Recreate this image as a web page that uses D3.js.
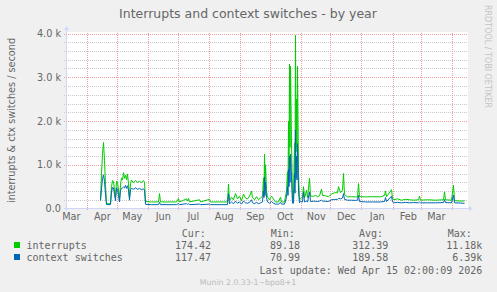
<!DOCTYPE html>
<html>
<head>
<meta charset="utf-8">
<script src="https://cdn.jsdelivr.net/npm/d3@7"></script>
<style>
  html, body { margin: 0; padding: 0; background: #f0f0f0; }
  svg { display: block; }
  text { font-family: "DejaVu Sans", sans-serif; fill: #666; }
  .mono { font-family: "DejaVu Sans Mono", monospace; }
</style>
</head>
<body>
<svg id="chart" width="497" height="292"></svg>
<script>
// samples
const dates = [
  "2025-04-15","2025-04-16","2025-04-17","2025-04-18","2025-04-19","2025-04-20","2025-04-21","2025-04-25",
  "2025-04-26","2025-04-27","2025-04-28","2025-04-29","2025-04-30","2025-05-01","2025-05-02","2025-05-03",
  "2025-05-04","2025-05-05","2025-05-06","2025-05-07","2025-05-08","2025-05-09","2025-05-10","2025-05-11",
  "2025-05-12","2025-05-13","2025-05-14","2025-05-15","2025-05-16","2025-05-18","2025-05-20","2025-05-22",
  "2025-05-24","2025-05-26","2025-05-28","2025-05-29","2025-05-30","2025-06-05","2025-06-12","2025-06-13",
  "2025-06-14","2025-06-30","2025-07-02","2025-07-03","2025-07-10","2025-07-11","2025-07-12","2025-07-13",
  "2025-07-23","2025-07-24","2025-08-02","2025-08-03","2025-08-20","2025-08-21","2025-08-22","2025-08-24",
  "2025-08-26","2025-08-28","2025-08-30","2025-09-01","2025-09-03","2025-09-05","2025-09-07","2025-09-09",
  "2025-09-11","2025-09-13","2025-09-14","2025-09-16","2025-09-18","2025-09-20","2025-09-22","2025-09-24",
  "2025-09-25","2025-09-25T12:00Z","2025-09-26","2025-09-26T12:00Z","2025-09-27","2025-09-28","2025-09-29","2025-10-01",
  "2025-10-03","2025-10-05","2025-10-07","2025-10-10","2025-10-12","2025-10-13","2025-10-16","2025-10-18",
  "2025-10-19","2025-10-19T12:00Z","2025-10-20","2025-10-20T12:00Z","2025-10-21","2025-10-21T12:00Z","2025-10-22","2025-10-23",
  "2025-10-24","2025-10-25","2025-10-26","2025-10-26T12:00Z","2025-10-27","2025-10-27T12:00Z","2025-10-28","2025-10-28T12:00Z",
  "2025-10-29","2025-10-30","2025-10-31","2025-11-01","2025-11-03","2025-11-04","2025-11-05","2025-11-07",
  "2025-11-08","2025-11-10","2025-11-11","2025-11-14","2025-11-16","2025-11-18","2025-11-20","2025-11-22",
  "2025-11-23","2025-11-26","2025-11-29","2025-12-02","2025-12-05","2025-12-08","2025-12-09","2025-12-11",
  "2025-12-13","2025-12-14","2025-12-15","2025-12-18","2025-12-22","2025-12-26","2025-12-28","2025-12-29",
  "2025-12-30","2026-01-05","2026-01-12","2026-01-20","2026-01-24","2026-01-25","2026-01-26","2026-01-31",
  "2026-02-01","2026-02-02","2026-02-06","2026-02-10","2026-02-14","2026-02-18","2026-02-22","2026-02-27",
  "2026-02-28","2026-03-01","2026-03-08","2026-03-16","2026-03-24","2026-03-25","2026-03-26","2026-04-01",
  "2026-04-03","2026-04-04","2026-04-10","2026-04-14"
];
const interrupts = [
  200,800,1250,1510,1100,550,110,110,
  500,640,620,430,270,620,590,420,
  200,540,700,650,820,690,760,660,
  790,560,250,560,650,590,640,600,
  620,590,640,600,160,150,150,340,
  150,150,230,150,220,170,230,150,
  200,150,210,150,150,560,180,260,
  200,340,220,280,180,330,240,220,
  280,400,250,200,270,200,240,280,
  700,400,1240,500,1000,400,260,200,
  280,220,150,150,260,150,150,400,
  840,500,2000,900,3300,1400,3250,1500,
  200,200,1500,600,3960,1400,2500,1300,
  3250,800,200,230,260,500,240,420,
  250,690,280,280,300,270,290,440,
  300,290,270,330,360,360,500,360,
  420,800,320,265,270,265,260,570,
  270,265,270,265,300,400,270,430,
  240,200,220,190,210,200,190,200,
  280,190,200,190,200,380,200,190,
  530,180,170,174
];
const contextSwitches = [
  180,450,680,770,620,330,90,90,
  380,480,470,320,180,470,440,300,
  150,420,460,470,490,470,530,460,
  520,420,190,430,460,440,470,440,
  460,430,450,420,95,88,88,140,
  88,88,110,88,110,95,110,88,
  100,88,100,88,88,340,110,150,
  110,170,120,150,100,170,130,120,
  140,200,130,110,140,110,130,150,
  400,250,720,300,600,250,150,120,
  160,120,100,100,140,100,100,250,
  500,300,900,500,1200,600,1240,700,
  120,120,800,350,1790,700,1200,650,
  1480,400,130,160,150,380,150,170,
  150,380,160,165,165,160,170,190,
  170,165,160,200,205,210,230,220,
  240,340,210,190,190,185,190,300,
  160,150,150,150,160,250,160,280,
  150,130,140,130,140,130,135,130,
  150,130,130,130,135,205,135,130,
  305,130,125,117
];
const yTicks = [0, 1000, 2000, 3000, 4000];
const yTickLabels = ["0.0", "1.0 k", "2.0 k", "3.0 k", "4.0 k"];
const seriesNames = ["interrupts", "context switches"];
const seriesColors = ["#00cc00", "#0066b3"];
const curVals = ["174.42", "117.47"];
const minVals = ["89.18", "70.99"];
const avgVals = ["312.39", "189.58"];
const maxVals = ["11.18k", "6.39k"];

const svg = d3.select("#chart");
const L = 67, R = 467, T = 33, B = 208;

const x = d3.scaleUtc()
  .domain([Date.UTC(2025, 2, 12, 12), Date.UTC(2026, 3, 16, 12)])
  .range([L, R]);
const y = d3.scaleLinear().domain([0, 4000]).range([B + 0.5, T + 0.5]);

svg.append("rect").attr("width", 497).attr("height", 292).attr("fill", "#f0f0f0");
svg.append("rect").attr("x", L).attr("y", T - 1).attr("width", R - L + 1).attr("height", B - T + 1).attr("fill", "#fff");

// minor grid every 200
const minor = d3.range(200, 4001, 200).filter((v) => v % 1000 !== 0);
svg.append("g").selectAll("line").data(minor).join("line")
  .attr("x1", L - 3).attr("x2", R + 1)
  .attr("y1", (d) => Math.round(y(d)) + 0.5).attr("y2", (d) => Math.round(y(d)) + 0.5)
  .attr("stroke", "#c8c8c8").attr("stroke-dasharray", "1,1");

// major grid
svg.append("g").selectAll("line").data(yTicks.slice(1)).join("line")
  .attr("x1", L - 3).attr("x2", R + 1)
  .attr("y1", (d) => Math.round(y(d)) + 0.5).attr("y2", (d) => Math.round(y(d)) + 0.5)
  .attr("stroke", "#f2a0a0").attr("stroke-dasharray", "1,1");

const months = d3.utcMonth.range(d3.utcMonth.ceil(x.domain()[0]), x.domain()[1]);
svg.append("g").selectAll("line").data(months).join("line")
  .attr("x1", (d) => Math.round(x(d)) + 0.5).attr("x2", (d) => Math.round(x(d)) + 0.5)
  .attr("y1", T).attr("y2", B + 3)
  .attr("stroke", "#f2a0a0").attr("stroke-dasharray", "1,1");

// month labels, centred in the month
const labelMonths = d3.utcMonth.range(Date.UTC(2025, 2, 1), Date.UTC(2026, 3, 1));
svg.append("g").selectAll("text").data(labelMonths).join("text")
  .attr("x", (d) => x(d) + 15.8).attr("y", 220)
  .attr("text-anchor", "middle").attr("font-size", 9.7)
  .text(d3.utcFormat("%b"));

// y tick labels
svg.append("g").selectAll("text").data(yTicks).join("text")
  .attr("x", 61).attr("y", (d) => y(d) + 3.5)
  .attr("text-anchor", "end").attr("font-size", 9.7)
  .text((d, i) => yTickLabels[i]);

// series
const line = d3.line().x((d) => x(d[0])).y((d) => y(d[1]));
[interrupts, contextSwitches].forEach((vals, i) => {
  const pts = dates.map((dt, j) => [d3.isoParse(dt.length === 10 ? dt + "T00:00Z" : dt), vals[j]]);
  svg.append("path").datum(pts)
    .attr("fill", "none").attr("stroke", seriesColors[i]).attr("stroke-width", 1)
    .attr("d", line);
});

// axes with arrows
const axisCol = "#cfd6f8";
svg.append("line").attr("x1", L - 3).attr("x2", R + 2).attr("y1", B + 0.5).attr("y2", B + 0.5).attr("stroke", axisCol);
svg.append("line").attr("x1", L - 0.5).attr("x2", L - 0.5).attr("y1", B + 3).attr("y2", T - 3).attr("stroke", axisCol);
svg.append("path").attr("d", `M${R + 2},${B - 2} L${R + 6},${B + 0.5} L${R + 2},${B + 3} Z`).attr("fill", axisCol);
svg.append("path").attr("d", `M${L - 3},${T - 3} L${L - 0.5},${T - 7} L${L + 2},${T - 3} Z`).attr("fill", axisCol);

// titles
svg.append("text").attr("x", 248).attr("y", 18).attr("text-anchor", "middle")
  .attr("font-size", 12.5).text("Interrupts and context switches - by year");
svg.append("text").attr("transform", `translate(15,${(T + B) / 2}) rotate(-90)`)
  .attr("text-anchor", "middle").attr("font-size", 9.7)
  .text("interrupts & ctx switches / second");
svg.append("text").attr("transform", "translate(485,5) rotate(90)")
  .attr("font-size", 8).style("fill", "#c4c4c4")
  .text("RRDTOOL / TOBI OETIKER");

// legend
const fs = 10;
[["Cur:", 181.7], ["Min:", 270.7], ["Avg:", 359], ["Max:", 447.7]].forEach(([t, px]) =>
  svg.append("text").attr("class", "mono").attr("font-size", fs).attr("x", px).attr("y", 237).text(t));
seriesNames.forEach((name, i) => {
  const yy = 249 + i * 12;
  svg.append("rect").attr("x", 14).attr("y", yy - 7).attr("width", 6).attr("height", 6).attr("fill", seriesColors[i]);
  svg.append("text").attr("class", "mono").attr("font-size", fs).attr("x", 26.5).attr("y", yy).text(name);
  [[curVals, 211], [minVals, 300], [avgVals, 388.3], [maxVals, 482.3]].forEach(([arr, px]) =>
    svg.append("text").attr("class", "mono").attr("font-size", fs).attr("x", px).attr("y", yy)
      .attr("text-anchor", "end").text(arr[i]));
});
svg.append("text").attr("class", "mono").attr("font-size", fs).attr("x", 482.3).attr("y", 273.5)
  .attr("text-anchor", "end").text("Last update: Wed Apr 15 02:00:09 2026");
svg.append("text").attr("x", 248).attr("y", 284.5).attr("text-anchor", "middle")
  .attr("font-size", 7.8).style("fill", "#bbbbbb").text("Munin 2.0.33-1~bpo8+1");
</script>
</body>
</html>
